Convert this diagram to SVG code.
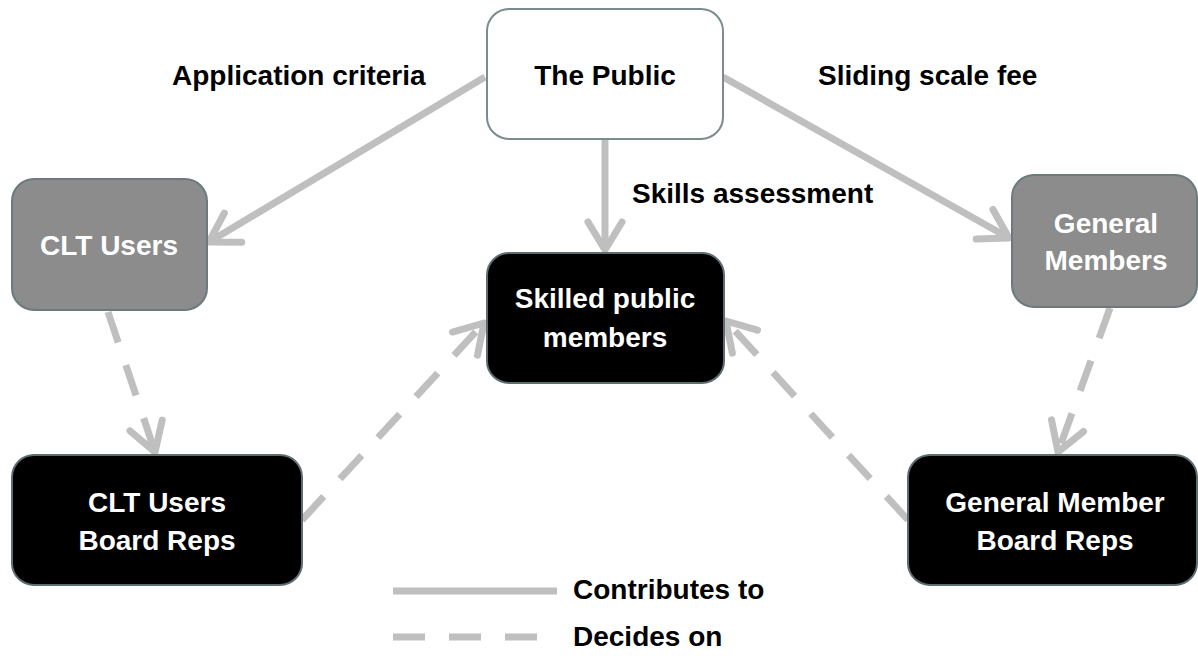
<svg xmlns="http://www.w3.org/2000/svg" width="1198" height="662" viewBox="0 0 1198 662">
<style>
.t{font-family:"Liberation Sans",Arial,sans-serif;font-weight:bold;font-size:28px;}
.lbl{fill:#000;}
.w{fill:#fff;text-anchor:middle;}
.b{fill:#000;text-anchor:middle;}
.c{fill:none;stroke:#bfbfbf;stroke-width:7;}
.d{stroke-dasharray:32 24;}
.pub{fill:#fff;stroke:#7a8c8e;stroke-width:2;}
.gry{fill:#8c8c8c;stroke:#6b7b7d;stroke-width:2;}
.blk{fill:#000;stroke:#5d6e70;stroke-width:2;}
</style>
<defs>
<marker id="ah" markerUnits="userSpaceOnUse" markerWidth="60" markerHeight="60" viewBox="-40 -30 50 60" refX="0" refY="0" orient="auto">
<path d="M-28,-17 L0,0 L-28,17" fill="none" stroke="#bfbfbf" stroke-width="7" stroke-linecap="round" stroke-linejoin="round"/>
</marker>
</defs>
<rect width="1198" height="662" fill="#fff"/>
<g id="connectors">
<line class="c" x1="485" y1="77" x2="209" y2="242" marker-end="url(#ah)"/>
<line class="c" x1="723" y1="77" x2="1009" y2="238" marker-end="url(#ah)"/>
<line class="c" x1="605" y1="140" x2="605" y2="250" marker-end="url(#ah)"/>
<line class="c d" x1="108" y1="312" x2="155" y2="452" marker-end="url(#ah)"/>
<line class="c d" x1="1110" y1="308" x2="1058" y2="452" marker-end="url(#ah)"/>
<line class="c d" x1="302" y1="520" x2="484" y2="323" marker-end="url(#ah)"/>
<line class="c d" x1="908" y1="520" x2="726" y2="321" marker-end="url(#ah)"/>
</g>
<g id="edge-labels">
<text class="t lbl" x="172" y="85">Application criteria</text>
<text class="t lbl" x="818" y="85">Sliding scale fee</text>
<text class="t lbl" x="632" y="203">Skills assessment</text>
</g>
<g id="node-public">
<rect class="pub" x="487" y="9" width="236" height="130" rx="22"/>
<text class="t b" x="605" y="85">The Public</text>
</g>
<g id="node-clt-users">
<rect class="gry" x="12" y="179" width="195" height="131" rx="22"/>
<text class="t w" x="109" y="255">CLT Users</text>
</g>
<g id="node-general-members">
<rect class="gry" x="1012" y="175" width="185" height="132" rx="22"/>
<text class="t w" x="1106" y="233">General</text>
<text class="t w" x="1106" y="270">Members</text>
</g>
<g id="node-skilled">
<rect class="blk" x="487" y="253" width="237" height="130" rx="22"/>
<text class="t w" x="605" y="308">Skilled public</text>
<text class="t w" x="605" y="347">members</text>
</g>
<g id="node-clt-board">
<rect class="blk" x="12" y="455" width="290" height="130" rx="22"/>
<text class="t w" x="157" y="512">CLT Users</text>
<text class="t w" x="157" y="550">Board Reps</text>
</g>
<g id="node-gm-board">
<rect class="blk" x="908" y="455" width="289" height="130" rx="22"/>
<text class="t w" x="1055" y="512">General Member</text>
<text class="t w" x="1055" y="550">Board Reps</text>
</g>
<g id="legend">
<line class="c" x1="393" y1="591" x2="557" y2="591"/>
<text class="t lbl" x="573" y="599">Contributes to</text>
<line class="c d" x1="393" y1="637" x2="537" y2="637" stroke-dasharray="32 24"/>
<text class="t lbl" x="573" y="646">Decides on</text>
</g>
</svg>
